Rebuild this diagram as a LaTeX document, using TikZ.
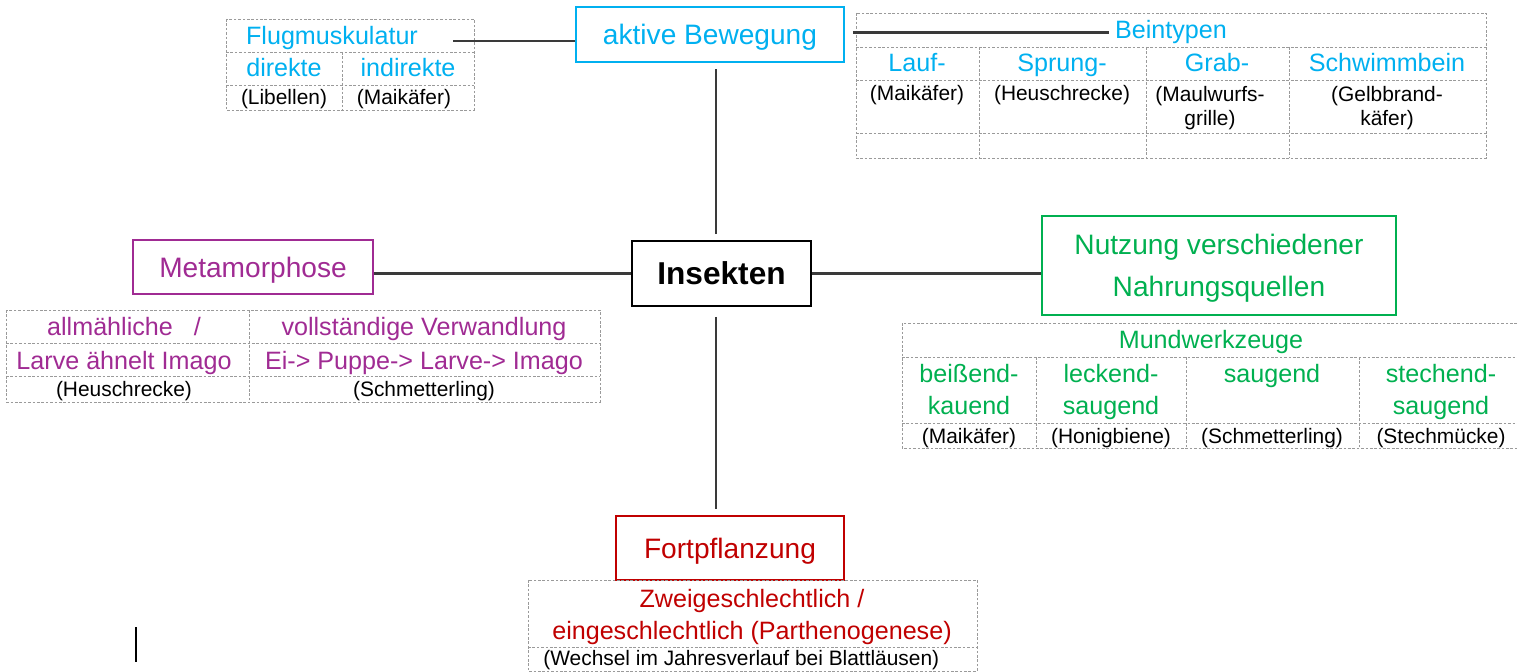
\documentclass[tikz,border=0pt]{standalone}
\usepackage{fontspec}
\setmainfont{Liberation Sans}
\definecolor{bewegung}{HTML}{00B0F0}
\definecolor{verwandlung}{HTML}{A02B93}
\definecolor{nahrung}{HTML}{00B050}
\definecolor{fortpfl}{HTML}{C00000}
\definecolor{linie}{HTML}{3A3A3A}
\definecolor{raster}{HTML}{9A9A9A}
\newcommand{\kopf}{\fontsize{16}{24}\selectfont}
\newcommand{\zelle}{\fontsize{14.3}{18.2}\selectfont}
\newcommand{\bsp}{\fontsize{11.9}{14.2}\selectfont}
\tikzset{
	thema/.style={draw=#1, text=#1, line width=1.1pt, inner sep=0pt, align=center, text depth=0pt, font=\kopf},
	eintrag/.style={text=#1, inner sep=0pt, anchor=base, align=center, font=\zelle},
	beispiel/.style={inner sep=0pt, anchor=base, align=center, font=\bsp},
	gitter/.style={draw=raster, line width=0.5pt, dash pattern=on 1.5pt off 1pt},
	ast/.style={draw=linie, line width=1.3pt}
}
\begin{document}
\begin{tikzpicture}[x=0.02cm, y=-0.02cm]
	\useasboundingbox (0,0) rectangle (1517,672);

	\node[thema=black, font=\fontsize{18}{22}\selectfont\bfseries, minimum width=3.58cm, minimum height=1.3cm] (insekten) at(721.5, 273.5){Insekten};
	\node[thema=bewegung, minimum width=5.36cm, minimum height=1.1cm] (aktiv) at(710, 34.5){aktive Bewegung};
	\node[thema=verwandlung, minimum width=4.8cm, minimum height=1.08cm] (metamorphose) at(253, 267){Metamorphose};
	\node[thema=nahrung, minimum width=7.08cm, minimum height=1.98cm] (nahrung) at(1219, 265.5){Nutzung verschiedener\\Nahrungsquellen};
	\node[thema=fortpfl, minimum width=4.56cm, minimum height=1.28cm] (fortpflanzung) at(730, 548){Fortpflanzung};

		\draw[gitter] (226,19) rectangle (474,110);
		\draw[gitter] (226,52) -- (474,52) (226,85) -- (474,85) (342,52) -- (342,110);
			\node[eintrag=bewegung] (flug) at(332, 45){Flugmuskulatur};
			\node[eintrag=bewegung] (direkt) at(284, 77){direkte};
			\node[eintrag=bewegung] (indirekt) at(408, 77){indirekte};
			\node[beispiel] (libellen) at(284, 105){(Libellen)};
			\node[beispiel] (maikaeferA) at(404, 105){(Maikäfer)};

		\draw[gitter] (856,13) rectangle (1486,158);
		\draw[gitter] (856,47) -- (1486,47) (856,80) -- (1486,80) (856,133) -- (1486,133);
		\foreach \sx in {979,1146,1289} \draw[gitter] (\sx,47) -- (\sx,158);
			\node[eintrag=bewegung] (beintypen) at(1171, 39){Beintypen};
			\node[eintrag=bewegung] (lauf) at(917, 72){Lauf-};
			\node[eintrag=bewegung] (sprung) at(1062, 72){Sprung-};
			\node[eintrag=bewegung] (grab) at(1217, 72){Grab-};
			\node[eintrag=bewegung] (schwimm) at(1387, 72){Schwimmbein};
			\node[beispiel] (maikaeferB) at(917, 101){(Maikäfer)};
			\node[beispiel] (heuschreckeA) at(1062, 101){(Heuschrecke)};
			\node[beispiel] (maulwurf) at(1210, 126){(Maulwurfs-\\grille)};
			\node[beispiel] (gelbbrand) at(1387, 126){(Gelbbrand-\\käfer)};

		\draw[gitter] (6,310) rectangle (600,402);
		\draw[gitter] (6,343) -- (600,343) (6,376) -- (600,376) (249,310) -- (249,402);
			\node[eintrag=verwandlung] (allmaehlich) at(124, 335){allmähliche\ \ \ /};
			\node[eintrag=verwandlung] (vollstaendig) at(424, 335){vollständige Verwandlung};
			\node[eintrag=verwandlung] (larve) at(124, 369){Larve ähnelt Imago};
			\node[eintrag=verwandlung] (stadien) at(424, 369){Ei-> Puppe-> Larve-> Imago};
			\node[beispiel] (heuschreckeB) at(124, 396){(Heuschrecke)};
			\node[beispiel] (schmetterlingA) at(424, 396){(Schmetterling)};

		\draw[gitter] (1517,323) -- (902,323) -- (902,448) -- (1517,448);
		\draw[gitter] (902,357) -- (1517,357) (902,423) -- (1517,423);
		\foreach \sx in {1036,1186,1359} \draw[gitter] (\sx,357) -- (\sx,448);
			\node[eintrag=nahrung] (mundwerkzeuge) at(1211, 348){Mundwerkzeuge};
			\node[eintrag=nahrung] (beissend) at(969, 414){beißend-\\kauend};
			\node[eintrag=nahrung] (leckend) at(1111, 414){leckend-\\saugend};
			\node[eintrag=nahrung] (saugend) at(1272, 382){saugend};
			\node[eintrag=nahrung] (stechend) at(1441, 414){stechend-\\saugend};
			\node[beispiel] (maikaeferC) at(969, 443){(Maikäfer)};
			\node[beispiel] (honigbiene) at(1111, 443){(Honigbiene)};
			\node[beispiel] (schmetterlingB) at(1272, 443){(Schmetterling)};
			\node[beispiel] (stechmuecke) at(1441, 443){(Stechmücke)};

		\draw[gitter] (528,580) rectangle (977,671);
		\draw[gitter] (528,647) -- (977,647);
			\node[eintrag=fortpfl] (geschlecht) at(752, 639){Zweigeschlechtlich /\\eingeschlechtlich (Parthenogenese)};
			\node[beispiel, anchor=base west] (blattlaus) at(543, 665){(Wechsel im Jahresverlauf bei Blattläusen)};

	\coordinate (flugende) at(453, 41);
	\draw[ast] (aktiv.west |- flugende) -- (flugende);
	\draw[ast, shorten <=0.16cm, shorten >=0.12cm] (aktiv.east |- beintypen.west) -- (beintypen.west);
	\draw[ast, shorten <=0.12cm, shorten >=0.12cm] ([xshift=-0.11cm]insekten.north) -- ([xshift=-0.11cm]insekten.north |- aktiv.south);
	\draw[ast, shorten <=0.2cm, shorten >=0.12cm] ([xshift=-0.11cm]insekten.south) -- ([xshift=-0.11cm]insekten.south |- fortpflanzung.north);
	\draw[ast] (insekten.west) -- (insekten.west -| metamorphose.east);
	\draw[ast] (insekten.east) -- (insekten.east -| nahrung.west);

	\draw[line width=0.6pt] (136,627) -- (136,662);
\end{tikzpicture}
\end{document}
